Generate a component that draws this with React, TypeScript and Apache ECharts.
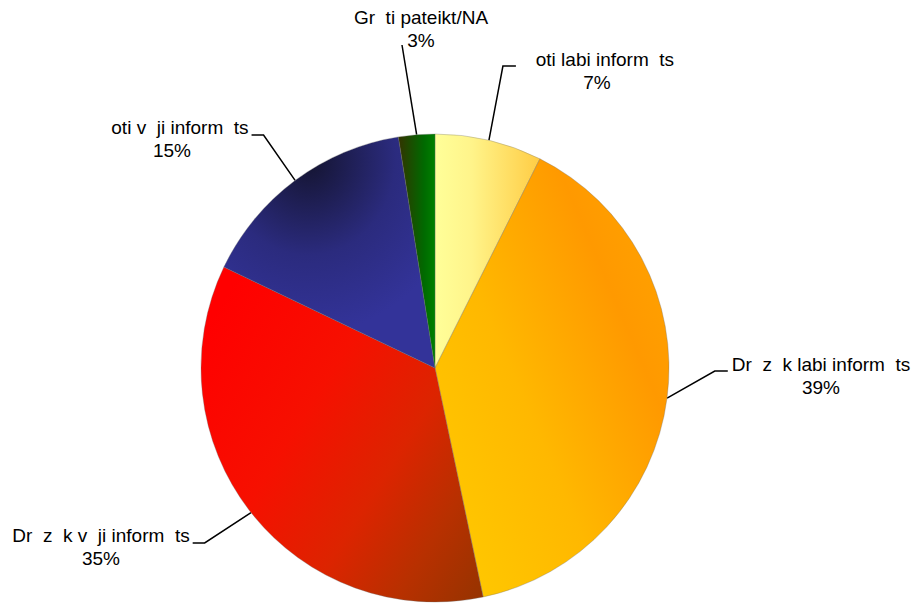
import React, { useEffect, useRef } from "react";
import * as echarts from "echarts";

// Category names (missing glyphs of the original appear as blanks)
const categories = [
  "   oti labi inform  ts",
  "Dr  z  k labi inform  ts",
  "Dr  z  k v  ji inform  ts",
  "   oti v  ji inform  ts",
  "Gr  ti pateikt/NA",
];
// Shares in percent
const values = [7.4, 39.3, 35.4, 15.4, 2.5];

// Label centres (layout only)
const labelCenters: [number, number][] = [
  [597, 71],
  [821, 376],
  [101, 547],
  [172, 139],
  [421, 29],
];
// which side the leader line joins the label: 1 = from left, -1 = from right, 0 = from below
const labelSides = [1, 1, -1, -1, 0];

const CENTER: [number, number] = [435, 368];
const RADIUS = 234;

const fills = [
  new echarts.graphic.LinearGradient(0, 0, 1, 0, [
    { offset: 0, color: "#FFFF99" },
    { offset: 0.35, color: "#FFF48A" },
    { offset: 1, color: "#FFCC44" },
  ]),
  new echarts.graphic.LinearGradient(0, 1, 1, 0.2, [
    { offset: 0, color: "#FFCC00" },
    { offset: 0.45, color: "#FFB800" },
    { offset: 0.8, color: "#FF9900" },
    { offset: 1, color: "#FFA200" },
  ]),
  new echarts.graphic.LinearGradient(0, 0.2, 1, 0.95, [
    { offset: 0, color: "#FF0000" },
    { offset: 0.35, color: "#F61000" },
    { offset: 0.62, color: "#DC2400" },
    { offset: 0.82, color: "#B83000" },
    { offset: 1, color: "#993300" },
  ]),
  new echarts.graphic.RadialGradient(0.4, 0.1, 0.75, [
    { offset: 0, color: "#141430" },
    { offset: 0.55, color: "#2B2B7E" },
    { offset: 1, color: "#333399" },
  ]),
  new echarts.graphic.LinearGradient(0, 0, 1, 0, [
    { offset: 0, color: "#333300" },
    { offset: 0.7, color: "#006A00" },
    { offset: 1, color: "#008000" },
  ]),
];

export default function App() {
  const ref = useRef<HTMLDivElement>(null);

  useEffect(() => {
    if (!ref.current) return;
    const chart = echarts.init(ref.current, null, { renderer: "svg" });

    const total = values.reduce((a, b) => a + b, 0);
    const anchorFor = (i: number): [number, number] => {
      let before = 0;
      for (let k = 0; k < i; k++) before += values[k];
      const mid = ((before + values[i] / 2) / total) * Math.PI * 2;
      return [CENTER[0] + RADIUS * Math.sin(mid), CENTER[1] - RADIUS * Math.cos(mid)];
    };

    chart.setOption({
      animation: false,
      backgroundColor: "#ffffff",
      series: [
        {
          type: "pie",
          center: CENTER,
          radius: RADIUS,
          startAngle: 90,
          clockwise: true,
          silent: true,
          avoidLabelOverlap: false,
          emphasis: { disabled: true },
          data: categories.map((name, i) => ({
            name,
            value: values[i],
            itemStyle: { color: fills[i] },
          })),
          itemStyle: { borderWidth: 0.6, borderColor: "rgba(110,110,110,0.55)" },
          label: {
            show: true,
            position: "outside",
            formatter: (p: any) => `${p.name}\n${Math.round(p.percent)}%`,
            fontFamily: "Liberation Sans, Arial, sans-serif",
            fontSize: 19,
            lineHeight: 23,
            color: "#000000",
            align: "center",
          },
          labelLine: {
            show: true,
            length: 20,
            length2: 12,
            lineStyle: { color: "#000000", width: 1.5 },
          },
          labelLayout: (params: any) => {
            const i = params.dataIndex;
            const [cx, cy] = labelCenters[i];
            const w = params.labelRect ? params.labelRect.width : 160;
            const start =
              params.labelLinePoints && params.labelLinePoints[0]
                ? params.labelLinePoints[0]
                : anchorFor(i);
            const side = labelSides[i];
            let pts: number[][];
            if (side === 1) {
              const endX = cx - w / 2 - 4;
              const y = cy - 5;
              pts = [start, [endX - 13, y], [endX, y]];
            } else if (side === -1) {
              const endX = cx + w / 2 + 3;
              const y = cy - 4;
              pts = [start, [endX + 12, y], [endX, y]];
            } else {
              const p = [cx - 19, cy + 16];
              pts = [start, p, p];
            }
            return {
              x: cx,
              y: cy,
              align: "center",
              verticalAlign: "middle",
              labelLinePoints: pts,
            };
          },
        },
      ],
    });

    return () => chart.dispose();
  }, []);

  return (
    <div
      ref={ref}
      style={{ position: "fixed", left: 0, top: 0, width: 916, height: 603, background: "#fff" }}
    />
  );
}
